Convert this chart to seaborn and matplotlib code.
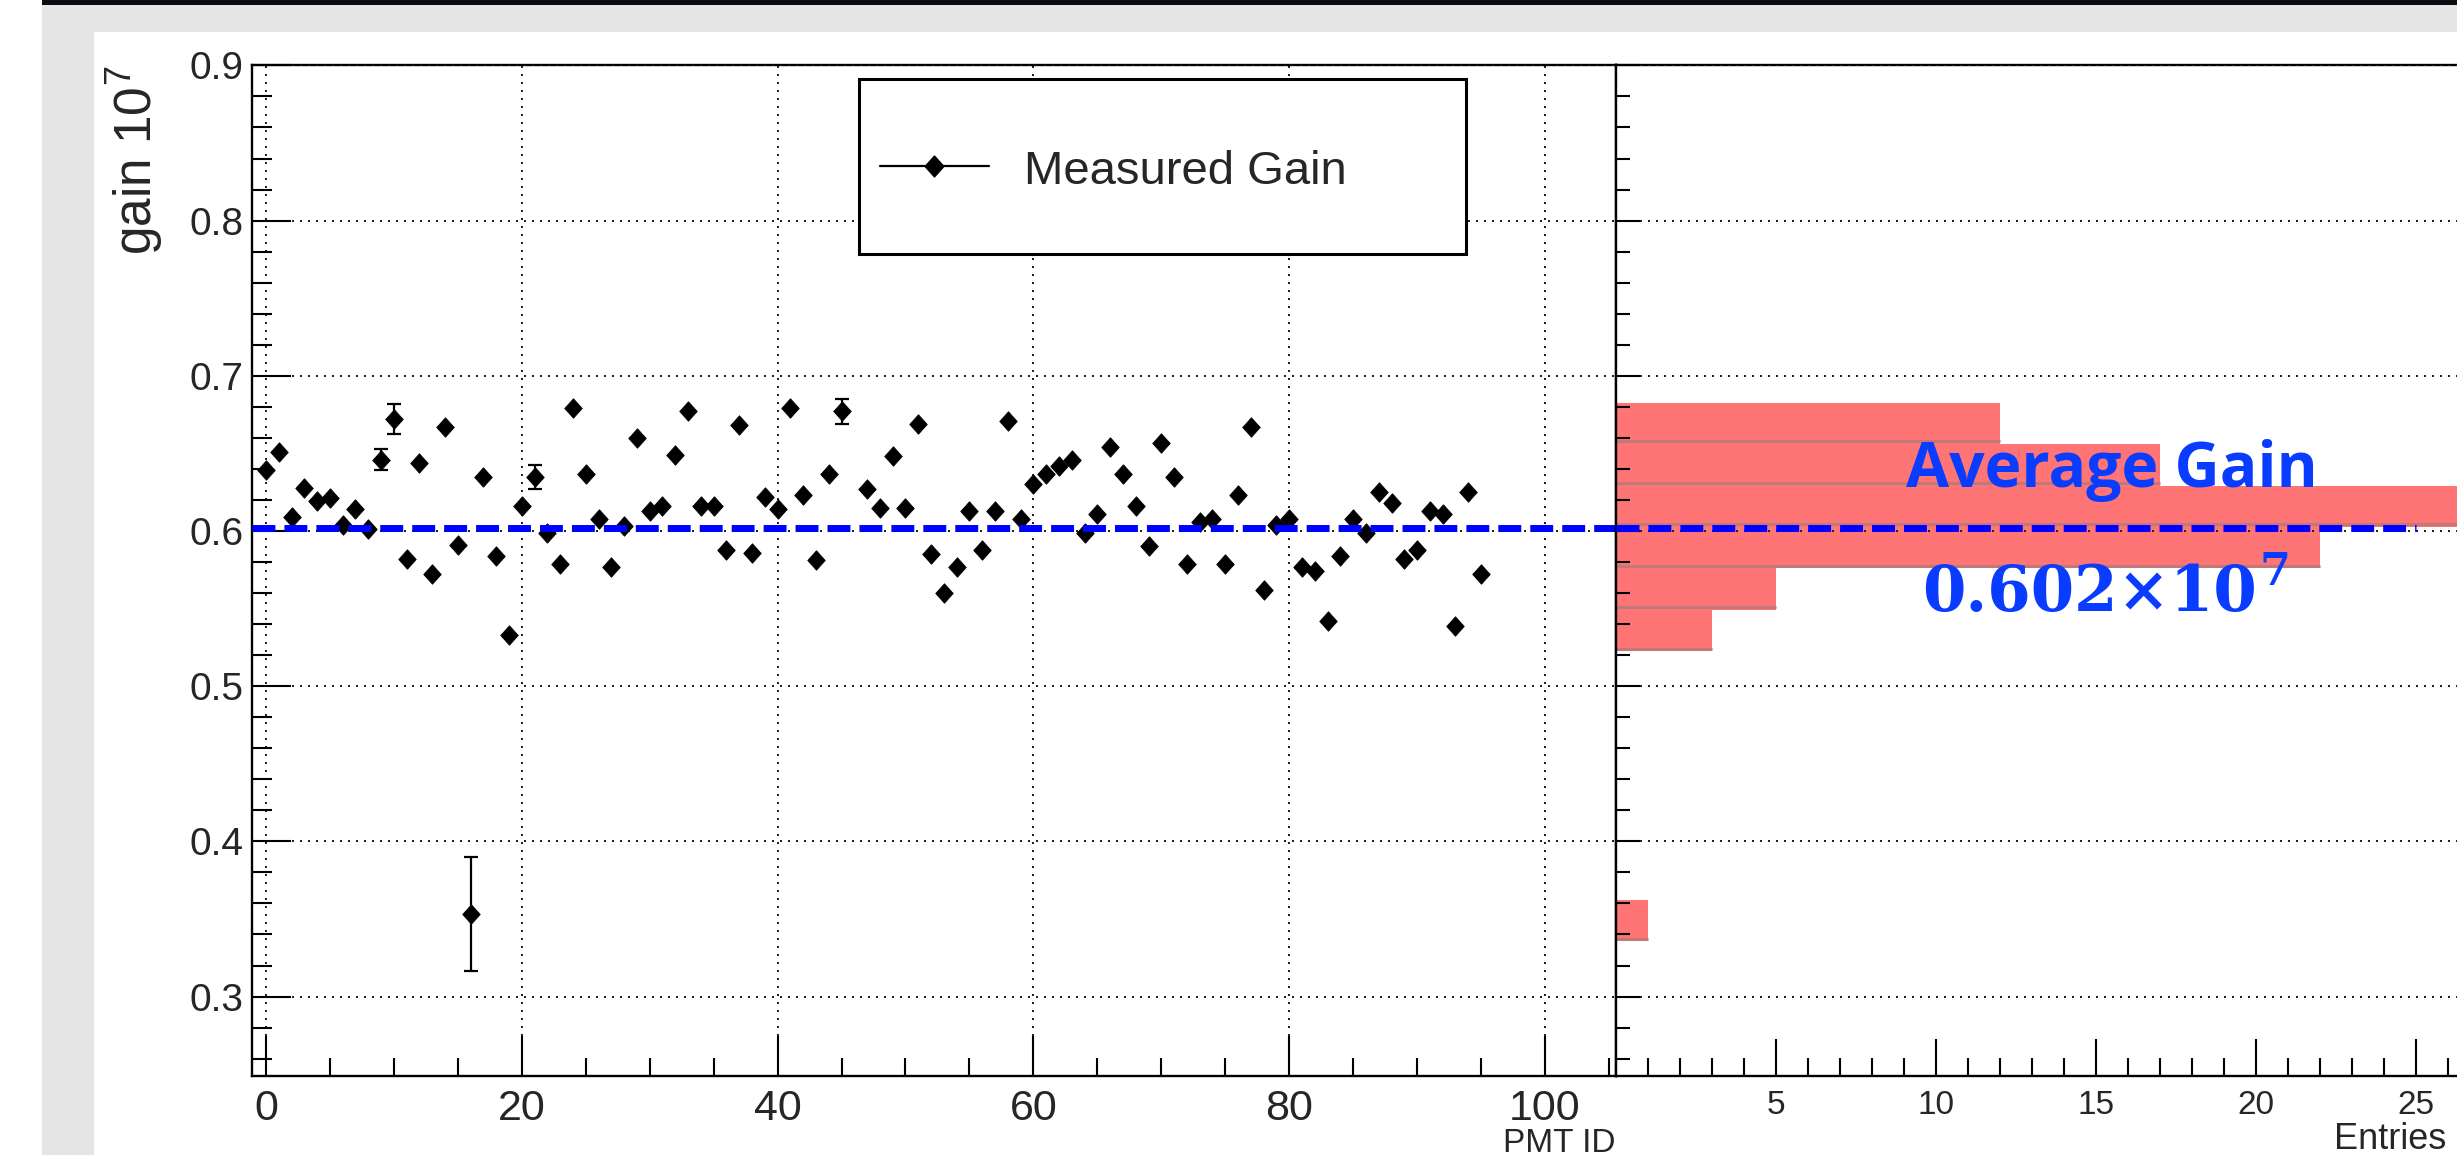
import matplotlib
matplotlib.use("Agg")
import numpy as np
import pandas as pd
import matplotlib.pyplot as plt
from matplotlib.path import Path
from matplotlib.patches import Rectangle
from matplotlib.lines import Line2D
from matplotlib.ticker import FixedLocator, MultipleLocator, FormatStrFormatter
import seaborn as sns

# ---- measured PMT gains (units of 1e7) ----
pmt_id = list(range(0, 46)) + list(range(47, 96))
gain = [
    0.639, 0.651, 0.609, 0.628, 0.619, 0.621, 0.604, 0.614, 0.601, 0.646,
    0.672, 0.582, 0.644, 0.572, 0.667, 0.591, 0.353, 0.635, 0.584, 0.533,
    0.616, 0.635, 0.599, 0.579, 0.679, 0.637, 0.608, 0.577, 0.603, 0.660,
    0.613, 0.616, 0.649, 0.677, 0.616, 0.616, 0.588, 0.668, 0.586, 0.622,
    0.614, 0.679, 0.623, 0.581, 0.637, 0.677,
    0.627, 0.615, 0.648, 0.615, 0.669, 0.585, 0.560, 0.577, 0.613, 0.588,
    0.613, 0.671, 0.608, 0.630, 0.637, 0.642, 0.646, 0.599, 0.611, 0.654,
    0.637, 0.616, 0.590, 0.657, 0.635, 0.579, 0.606, 0.608, 0.579, 0.623,
    0.667, 0.562, 0.604, 0.608, 0.577, 0.574, 0.542, 0.584, 0.608, 0.599,
    0.625, 0.618, 0.582, 0.588, 0.613, 0.611, 0.539, 0.625, 0.572,
]
# uncertainties that extend beyond the marker
err_id = [9, 10, 16, 21, 45]
err_val = [0.0070, 0.0097, 0.0366, 0.0078, 0.0078]

average_gain = 0.602

# ---- gain distribution (entries per bin, low to high gain) ----
hist_lo, hist_hi = 0.3356, 0.6827
hist_counts = [1, 0, 0, 0, 0, 0, 0, 3, 5, 22, 35, 17, 12]

# ---- axis ticks ----
y_ticks = [0.3, 0.4, 0.5, 0.6, 0.7, 0.8, 0.9]
x_ticks_id = [0, 20, 40, 60, 80, 100]
x_ticks_entries = [5, 10, 15, 20, 25]

sns.set_style("white")
plt.rcParams["font.family"] = ["Liberation Sans", "DejaVu Sans"]
plt.rcParams["mathtext.fontset"] = "custom"
plt.rcParams["mathtext.rm"] = "Liberation Sans"
plt.rcParams["mathtext.it"] = "Liberation Sans:italic"
plt.rcParams["mathtext.bf"] = "Liberation Sans:bold"

W, H, DPI = 2457, 1155, 100
fig = plt.figure(figsize=(W / DPI, H / DPI), dpi=DPI, facecolor="white")

# canvas frame
fig.patches.append(Rectangle((42 / W, 1 - 32 / H), (W - 42) / W, 27 / H,
                             transform=fig.transFigure, facecolor="#e5e5e5",
                             edgecolor="none", zorder=-5))
fig.patches.append(Rectangle((42 / W, 0), 52 / W, (H - 32) / H,
                             transform=fig.transFigure, facecolor="#e5e5e5",
                             edgecolor="none", zorder=-5))
fig.patches.append(Rectangle((42 / W, 1 - 5.4 / H), (W - 42) / W, 5.4 / H,
                             transform=fig.transFigure, facecolor="#0b0b12",
                             edgecolor="none", zorder=-5))

ax_top, ax_bot = 65.4, 1076
ax_h = ax_bot - ax_top
split_px, right_px = 1616, 2470
px_per_entry = 32.0
ax1 = fig.add_axes([252 / W, 1 - ax_bot / H, (split_px - 252) / W, ax_h / H])
ax2 = fig.add_axes([split_px / W, 1 - ax_bot / H, (right_px - split_px) / W, ax_h / H])

ylim = (0.2488, 0.9)
grid_style = dict(color="#222222", linestyle=(0, (1, 3)), linewidth=1.44)
blue = "#0000ff"
dash_style = dict(color=blue, linewidth=5.0, dashes=(3.3, 1.3), zorder=6)

diamond = Path([(0, 1), (0.9, 0), (0, -1), (-0.9, 0), (0, 1)],
               [Path.MOVETO, Path.LINETO, Path.LINETO, Path.LINETO, Path.CLOSEPOLY])

# ---- left: gain vs PMT ID ----
df = pd.DataFrame({"pmt": pmt_id, "gain": gain})
lookup = dict(zip(pmt_id, gain))
ax1.errorbar(err_id, [lookup[i] for i in err_id], yerr=err_val, fmt="none",
             ecolor="black", elinewidth=1.6, capsize=4.7, capthick=1.6, zorder=4)
sns.scatterplot(data=df, x="pmt", y="gain", marker=diamond, s=14 ** 2,
                color="black", edgecolor="black", linewidth=0.6, ax=ax1,
                zorder=5, legend=False)
ax1.axhline(average_gain, **dash_style)

ax1.set_xlim(-1.09, 105.55)
ax1.set_ylim(*ylim)
ax1.xaxis.set_major_locator(FixedLocator(x_ticks_id))
ax1.xaxis.set_minor_locator(MultipleLocator(5))
ax1.yaxis.set_major_locator(FixedLocator(y_ticks))
ax1.yaxis.set_minor_locator(MultipleLocator(0.02))
ax1.yaxis.set_major_formatter(FormatStrFormatter("%.1f"))
ax1.set_axisbelow(False)
ax1.grid(True, which="major", **grid_style)
ax1.tick_params(which="both", direction="in", bottom=True, left=True,
                top=False, right=False, color="black", width=1.5)
ax1.tick_params(axis="y", which="major", length=28, labelsize=28, pad=6)
ax1.tick_params(axis="y", which="minor", length=14.4)
ax1.tick_params(axis="x", which="major", length=28.8, labelsize=31, pad=9.3)
ax1.tick_params(axis="x", which="minor", length=13)
for side in ["left", "bottom", "top", "right"]:
    ax1.spines[side].set_linewidth(1.7)
    ax1.spines[side].set_color("black")
ax1.set_xlabel("PMT ID", loc="right", fontsize=24, labelpad=-0.5)
ax1.set_ylabel(r"gain 10$^{\mathrm{7}}$", loc="top", fontsize=37, labelpad=17)

# legend
ax1.add_patch(Rectangle((859 / W, 1 - 254 / H), (1466 - 859) / W, (254 - 79) / H,
                        transform=fig.transFigure, facecolor="white",
                        edgecolor="black", linewidth=2.2, zorder=7, clip_on=False))
ax1.add_line(Line2D([879.5 / W, 934 / W, 989 / W], [1 - 166 / H] * 3,
                    transform=fig.transFigure, color="black", linewidth=1.6,
                    marker=diamond, markersize=15, markevery=[1], zorder=8,
                    clip_on=False))
ax1.text(1024 / W, 1 - 184 / H, "Measured Gain", transform=fig.transFigure,
         fontsize=34, ha="left", va="baseline", zorder=8)

# ---- right: distribution of gains ----
edges = [float(e) for e in np.linspace(hist_lo, hist_hi, len(hist_counts) + 1)]
hist_df = pd.DataFrame({"center": [0.5 * (a + b) for a, b in zip(edges[:-1], edges[1:])],
                        "entries": hist_counts})
sns.histplot(data=hist_df, y="center", weights="entries", bins=edges, ax=ax2,
             color="#ff7474", alpha=1.0, edgecolor="none", linewidth=0,
             element="bars", fill=True, zorder=1)
ax2.hlines([e + 0.0017 for e in edges[:-1]], 0, hist_counts, colors="#c07878",
           linewidth=2.2, zorder=1.5)
ax2.plot([0, 25], [average_gain, average_gain], **dash_style)

ax2.set_xlim(0, (right_px - split_px) / px_per_entry)
ax2.set_ylim(*ylim)
ax2.xaxis.set_major_locator(FixedLocator(x_ticks_entries))
ax2.xaxis.set_minor_locator(MultipleLocator(1))
ax2.yaxis.set_major_locator(FixedLocator(y_ticks))
ax2.yaxis.set_minor_locator(MultipleLocator(0.02))
ax2.set_axisbelow(False)
ax2.yaxis.grid(True, which="major", **grid_style)
ax2.xaxis.grid(False)
ax2.tick_params(which="both", direction="in", bottom=True, left=True,
                top=False, right=False, color="black", width=1.5, labelleft=False)
ax2.tick_params(axis="y", which="major", length=17.3)
ax2.tick_params(axis="y", which="minor", length=9.9)
ax2.tick_params(axis="x", which="major", length=26.6, labelsize=24, pad=10)
ax2.tick_params(axis="x", which="minor", length=13)
for side in ["left", "bottom", "top"]:
    ax2.spines[side].set_linewidth(1.7)
    ax2.spines[side].set_color("black")
ax2.spines["right"].set_visible(False)
ax2.set_ylabel("")
ax2.set_xlabel("Entries", loc="right", fontsize=26)
# place the axis title just below the tick labels, ending inside the canvas
ax2.xaxis.set_label_coords((2446 - split_px) / (right_px - split_px),
                           -(1122 - ax_bot) / ax_h)

# average gain annotation
text_blue = "#0a3cff"
fig.text(1906 / W, 1 - 487.5 / H, "Average Gain", fontsize=45, fontweight="bold",
         family="Open Sans", color=text_blue, ha="left", va="baseline", zorder=10)
val_txt = fig.text(1922 / W, 1 - 611 / H, f"{average_gain:.3f}\u00d710", fontsize=45,
                   fontweight="bold", family="DejaVu Serif", color=text_blue,
                   ha="left", va="baseline", zorder=10)
ax2.annotate("7", xy=(1, 1), xycoords=val_txt, xytext=(2, 8.6),
             textcoords="offset points", fontsize=32, fontweight="bold",
             family="DejaVu Serif", color=text_blue, ha="left", va="top",
             annotation_clip=False, zorder=10)

fig.savefig("out.png", dpi=DPI, facecolor="white")
